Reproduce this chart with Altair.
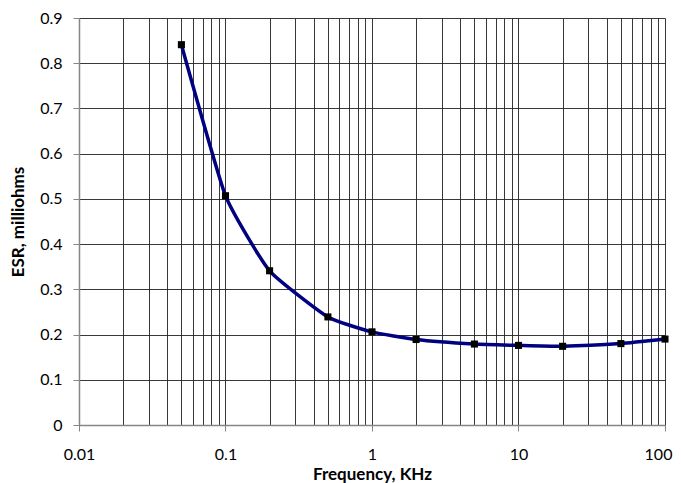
import altair as alt
import pandas as pd

freq = [0.05, 0.1, 0.2, 0.5, 1, 2, 5, 10, 20, 50, 100]
esr = [0.841, 0.507, 0.341, 0.239, 0.206, 0.189, 0.179, 0.176, 0.174, 0.180, 0.190]

x_grid = [m * 10 ** e for e in range(-2, 2) for m in range(1, 10)] + [100]
x_grid = [round(v, 6) for v in x_grid]
y_ticks = [round(i * 0.1, 1) for i in range(10)]

df = pd.DataFrame({"freq": freq, "esr": esr})

FONT = "Lato"
is_decade = "abs(log(datum.value)/LN10 - round(log(datum.value)/LN10)) < 1e-6"

x_enc = alt.X(
    "freq:Q",
    scale=alt.Scale(type="log", domain=[0.01, 100], nice=False),
    axis=alt.Axis(
        values=x_grid,
        title="Frequency, KHz",
        format="~g",
        labelExpr=f"({is_decade}) ? datum.label : ''",
        tickOpacity={"condition": {"test": is_decade, "value": 1}, "value": 0},
        labelOffset={"condition": {"test": "datum.value >= 99", "value": -7}, "value": 0},
        tickSize=6,
        labelPadding=15,
        labelFlush=False,
        titleBaseline="alphabetic",
        titleY=54,
    ),
)
y_enc = alt.Y(
    "esr:Q",
    scale=alt.Scale(domain=[0, 0.9], nice=False),
    axis=alt.Axis(values=y_ticks, title="ESR, milliohms", format="~g",
                  tickSize=6, labelPadding=11, labelFlush=False, titlePadding=12),
)

line = alt.Chart(df).mark_line(
    color="#000080", strokeWidth=3.5, interpolate="cardinal", tension=0.55
).encode(x=x_enc, y=y_enc)

pts = alt.Chart(df).mark_point(
    shape="square", filled=True, color="#000000", size=50, opacity=1
).encode(x="freq:Q", y="esr:Q")

chart = (
    alt.layer(line, pts)
    .properties(
        width=586,
        height=407,
        background="white",
        autosize=alt.AutoSizeParams(type="none"),
        padding={"left": 71, "top": 10, "right": 8, "bottom": 58},
    )
    .configure_view(stroke=None)
    .configure_axis(
        grid=True,
        gridColor="#222222",
        gridOpacity=0.9,
        gridWidth=1,
        domainColor="#868686",
        domainWidth=1.5,
        tickColor="#868686",
        labelFont=FONT,
        labelFontSize=16,
        labelColor="#000000",
        titleFont=FONT,
        titleFontSize=17,
        titleFontWeight="bold",
        titleColor="#000000",
    )
)

chart.save("out.html", embed_options={"renderer": "svg", "actions": False})
